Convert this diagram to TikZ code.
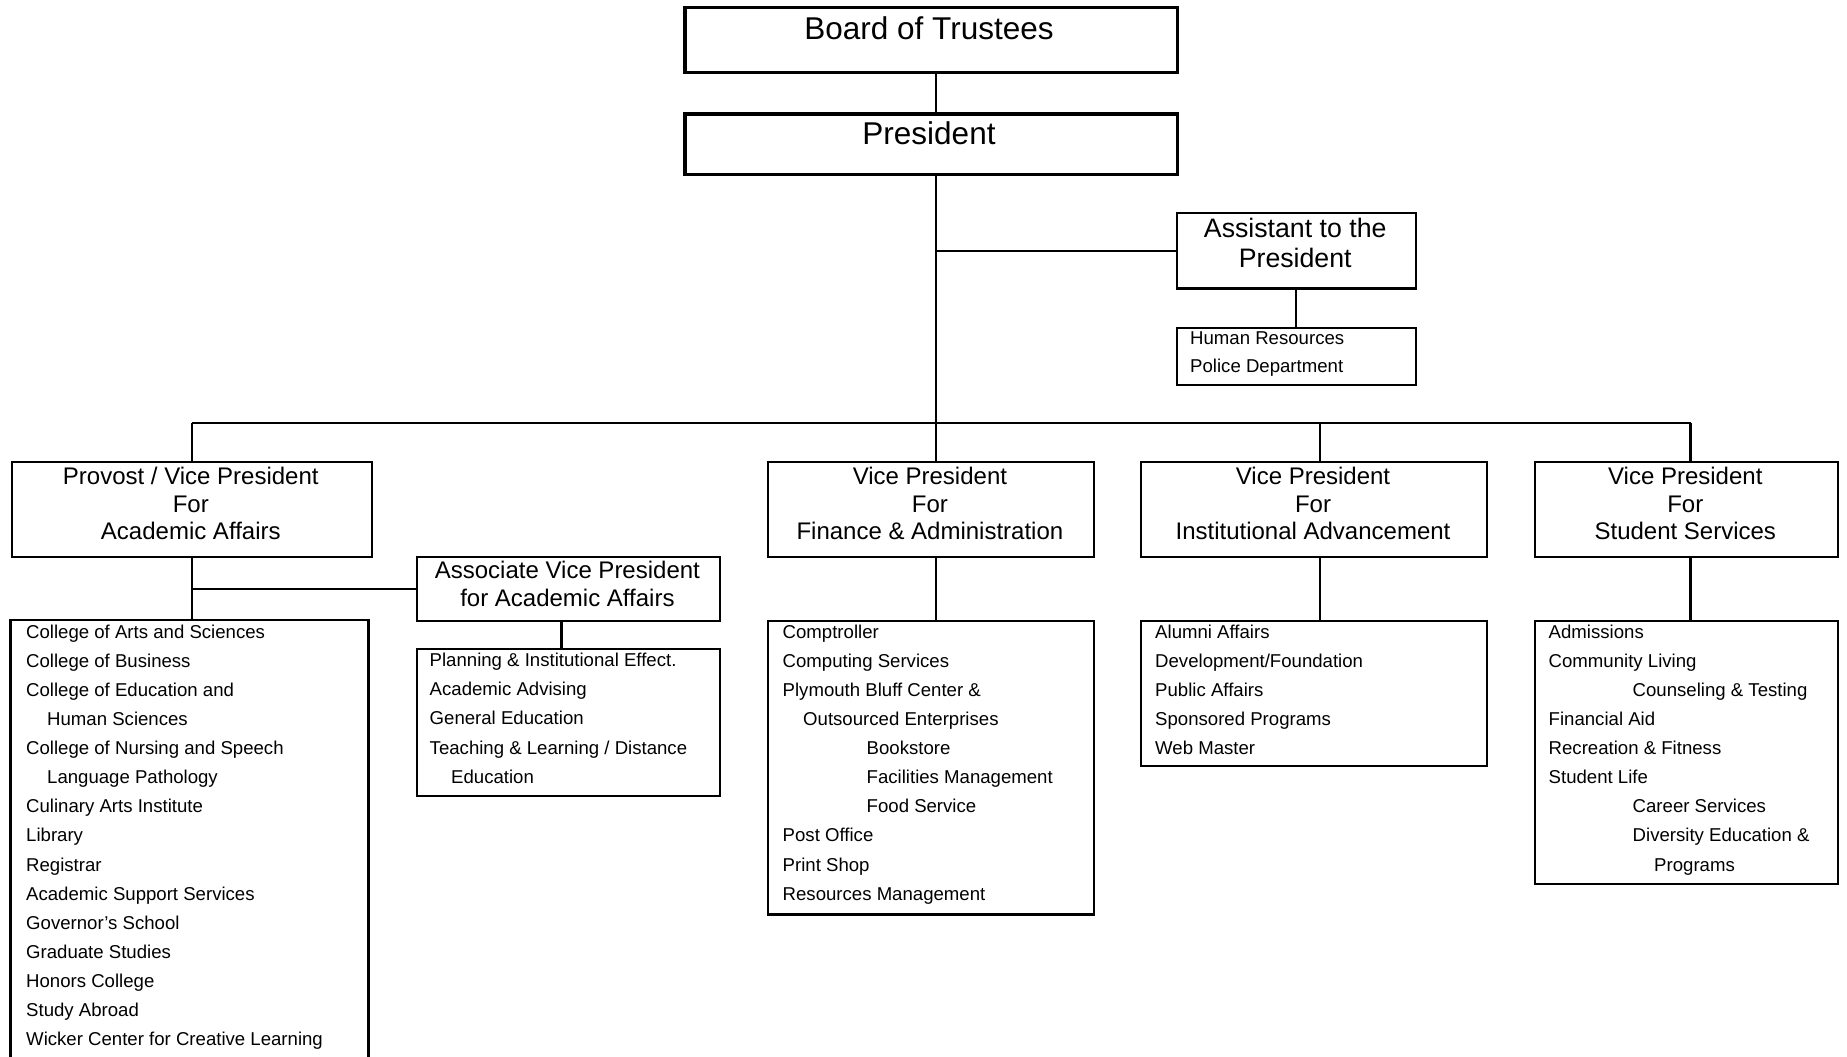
\documentclass[tikz,border=0pt]{standalone}
\usepackage{fontspec}
\setmainfont{Liberation Sans}
\newcommand{\mybig}{\fontsize{31.5pt}{36pt}\selectfont}
\newcommand{\myas}{\fontsize{26.7pt}{30pt}\selectfont}
\newcommand{\myhd}{\fontsize{24pt}{27.3pt}\selectfont}
\newcommand{\myls}{\fontsize{18.6pt}{29.1pt}\selectfont}
\newcommand{\myhr}{\fontsize{18.6pt}{28pt}\selectfont}
\begin{document}
\begin{tikzpicture}[x=1pt,y=-1pt,
  bx/.style={draw, rectangle, line width=2.2pt, inner sep=0pt, anchor=north west},
  bigbx/.style={bx, line width=3.5pt},
  ln/.style={line width=2.2pt},
  hd/.style={inner sep=0pt, anchor=north, align=center, font=\myhd},
  ls/.style={inner sep=0pt, anchor=north west, align=left, font=\myls},
]
\useasboundingbox (0,0) rectangle (1847,1057);

% boxes
\node[bigbx, minimum width=492.6pt, minimum height=65pt] (board) at (683,6) {};
\node[bigbx, minimum width=492.6pt, minimum height=60.5pt] (pres) at (683,112) {};
\node[bx, minimum width=239pt, minimum height=75.6pt] (asst) at (1175.6,211.7) {};
\node[bx, minimum width=239pt, minimum height=57.3pt] (hr) at (1175.6,326.7) {};
\node[bx, minimum width=360.4pt, minimum height=95pt] (prov) at (10.6,461) {};
\node[bx, minimum width=325.7pt, minimum height=95pt] (fin) at (767,461) {};
\node[bx, minimum width=346pt, minimum height=95pt] (inst) at (1140,461) {};
\node[bx, minimum width=303pt, minimum height=95pt] (stu) at (1533.5,461) {};
\node[bx, minimum width=303.2pt, minimum height=64pt] (avp) at (415.8,556) {};
\node[bx, minimum width=303.2pt, minimum height=147pt] (avpl) at (415.8,648) {};
\node[inner sep=0pt, anchor=north west, minimum width=357.6pt, minimum height=437pt] (coll) at (10.4,620) {};
\draw[ln] (coll.south west) -- (coll.north west) -- (coll.north east) -- (coll.south east);
\node[bx, minimum width=325.7pt, minimum height=293.3pt] (finl) at (767,620) {};
\node[bx, minimum width=346pt, minimum height=145pt] (instl) at (1140,620) {};
\node[bx, minimum width=303pt, minimum height=262.7pt] (stul) at (1533.5,620) {};

% texts
\node[inner sep=0pt, anchor=base, font=\mybig] (boardt) at (929,39.5) {Board of Trustees};
\node[inner sep=0pt, anchor=base, font=\mybig] (prest) at (929,144) {President};
\node[inner sep=0pt, anchor=north, align=center, font=\myas] (asstt) at (1295.2,216.1)
  {\rule{0pt}{21.4pt}Assistant to the\\President};
\node[inner sep=0pt, anchor=north west, align=left, font=\myhr] (hrt) at (1190,329.1)
  {\rule{0pt}{14.9pt}Human Resources\\Police Department};
\node[hd] (provt) at (190.8,465.3) {\rule{0pt}{19.2pt}Provost / Vice President\\For\\Academic Affairs};
\node[hd] (fint) at (929.9,465.3) {\rule{0pt}{19.2pt}Vice President\\For\\Finance \& Administration};
\node[hd] (instt) at (1313,465.3) {\rule{0pt}{19.2pt}Vice President\\For\\Institutional Advancement};
\node[hd] (stut) at (1685.3,465.3) {\rule{0pt}{19.2pt}Vice President\\For\\Student Services};
\node[hd] (avpt) at (567.4,559.5) {\rule{0pt}{19.2pt}Associate Vice President\\for Academic Affairs};

\node[ls] (collt) at (26,623.1) {\rule{0pt}{14.9pt}College of Arts and Sciences\\
College of Business\\
College of Education and\\
\hspace*{21pt}Human Sciences\\
College of Nursing and Speech\\
\hspace*{21pt}Language Pathology\\
Culinary Arts Institute\\
Library\\
Registrar\\
Academic Support Services\\
Governor’s School\\
Graduate Studies\\
Honors College\\
Study Abroad\\
Wicker Center for Creative Learning};

\node[ls] (avplt) at (429.5,651.6) {\rule{0pt}{14.9pt}Planning \& Institutional Effect.\\
Academic Advising\\
General Education\\
Teaching \& Learning / Distance\\
\hspace*{21.5pt}Education};

\node[ls] (finlt) at (782.5,623.1) {\rule{0pt}{14.9pt}Comptroller\\
Computing Services\\
Plymouth Bluff Center \&\\
\hspace*{20.5pt}Outsourced Enterprises\\
\hspace*{84pt}Bookstore\\
\hspace*{84pt}Facilities Management\\
\hspace*{84pt}Food Service\\
Post Office\\
Print Shop\\
Resources Management};

\node[ls] (instlt) at (1155,623.1) {\rule{0pt}{14.9pt}Alumni Affairs\\
Development/Foundation\\
Public Affairs\\
Sponsored Programs\\
Web Master};

\node[ls] (stult) at (1548.5,623.1) {\rule{0pt}{14.9pt}Admissions\\
Community Living\\
\hspace*{84pt}Counseling \& Testing\\
Financial Aid\\
Recreation \& Fitness\\
Student Life\\
\hspace*{84pt}Career Services\\
\hspace*{84pt}Diversity Education \&\\
\hspace*{105.5pt}Programs};

% connectors
\coordinate (tx) at (936,0);
\coordinate (bl) at (192,423);
\coordinate (bi) at (1320,423);
\coordinate (br) at (1690.5,423);
\coordinate (ax) at (561.5,0);

\draw[ln] (board.south -| tx) -- (pres.north -| tx);
\draw[ln] (pres.south -| tx) -- (fin.north -| tx);
\draw[ln] (tx |- asst.west) -- (asst.west);
\draw[ln] (asst.south) -- (hr.north);
\draw[ln] (bl) -- (br);
\draw[ln] (bl) -- (bl |- prov.north);
\draw[ln] (bi) -- (bi |- inst.north);
\draw[ln] (br) -- (br |- stu.north);
\draw[ln] (prov.south -| bl) -- (coll.north -| bl);
\draw[ln] (bl |- avp.west) -- (avp.west);
\draw[ln] (avp.south -| ax) -- (avpl.north -| ax);
\draw[ln] (fin.south -| tx) -- (finl.north -| tx);
\draw[ln] (inst.south -| bi) -- (instl.north -| bi);
\draw[ln] (stu.south -| br) -- (stul.north -| br);
\end{tikzpicture}
\end{document}
